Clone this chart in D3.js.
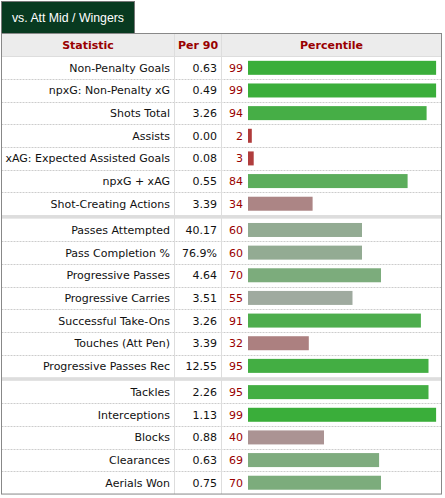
<!DOCTYPE html>
<html>
<head>
<meta charset="utf-8">
<script src="https://cdn.jsdelivr.net/npm/d3@7"></script>
<style>
  body { margin: 0; background: #fff; }
  svg text { font-family: "DejaVu Sans", Verdana, sans-serif; }
</style>
</head>
<body>
<div id="chart"></div>
<script>
// scouting report rows
var stats = ["Non-Penalty Goals", "npxG: Non-Penalty xG", "Shots Total", "Assists",
  "xAG: Expected Assisted Goals", "npxG + xAG", "Shot-Creating Actions",
  "Passes Attempted", "Pass Completion %", "Progressive Passes", "Progressive Carries",
  "Successful Take-Ons", "Touches (Att Pen)", "Progressive Passes Rec",
  "Tackles", "Interceptions", "Blocks", "Clearances", "Aerials Won"];
var per90 = ["0.63", "0.49", "3.26", "0.00", "0.08", "0.55", "3.39",
  "40.17", "76.9%", "4.64", "3.51", "3.26", "3.39", "12.55",
  "2.26", "1.13", "0.88", "0.63", "0.75"];
var percentiles = [99, 99, 94, 2, 3, 84, 34,
  60, 60, 70, 55, 91, 32, 95,
  95, 99, 40, 69, 70];
var groupSizes = [7, 7, 5];
var headers = ["Statistic", "Per 90", "Percentile"];
var tabLabel = "vs. Att Mid / Wingers";

var W = 445, H = 498;
var left = 1.5, right = 441.5, tabBottom = 33.5, headBottom = 56.5;
var rowH = 22.65, sepH = 3.6;
var col1 = 174.5, col2 = 221.5;

// which group each row belongs to
var groupOf = [];
groupSizes.forEach(function(n, g) { for (var k = 0; k < n; k++) groupOf.push(g); });

function rowTop(i) { return headBottom + i * rowH + groupOf[i] * sepH; }
var tableBottom = rowTop(stats.length - 1) + rowH;

var x = d3.scaleLinear().domain([0, 100]).range([248, 438]);
var color = d3.scaleLinear().domain([0, 50, 100])
  .range(["rgb(176,54,54)", "rgb(170,170,170)", "rgb(56,174,56)"]);

var svg = d3.select("#chart").append("svg")
  .attr("width", W).attr("height", H);

// tab
svg.append("rect")
  .attr("x", 1.5).attr("y", 1.5).attr("width", 133).attr("height", tabBottom - 1.5)
  .attr("fill", "#083a20").attr("stroke", "#777");
svg.append("text")
  .attr("x", 68).attr("y", 21.5)
  .attr("text-anchor", "middle")
  .style("font-family", "'Liberation Sans', Arial, sans-serif")
  .style("font-size", "12.3px")
  .attr("fill", "#fff")
  .text(tabLabel);

// header
svg.append("rect")
  .attr("x", left).attr("y", tabBottom).attr("width", right - left).attr("height", headBottom - tabBottom)
  .attr("fill", "#ececec");
var headX = [(left + col1) / 2, (col1 + col2) / 2, (col2 + right) / 2];
svg.selectAll(".head").data(headers).enter().append("text")
  .attr("class", "head")
  .attr("x", function(d, i) { return headX[i]; })
  .attr("y", (tabBottom + headBottom) / 2 + 4)
  .attr("text-anchor", "middle")
  .style("font-size", "11px").style("font-weight", "bold")
  .attr("fill", "#990000")
  .text(function(d) { return d; });

// group separators
var sepYs = [];
var acc = 0;
groupSizes.slice(0, -1).forEach(function(n) {
  acc += n;
  sepYs.push(rowTop(acc) - sepH);
});
svg.selectAll(".sep").data(sepYs).enter().append("rect")
  .attr("x", left).attr("y", function(d) { return d; })
  .attr("width", right - left).attr("height", sepH)
  .attr("fill", "#dddddd");

// dotted row dividers
var dividers = d3.range(stats.length - 1).filter(function(i) { return groupOf[i] === groupOf[i + 1]; });
svg.selectAll(".div").data(dividers).enter().append("line")
  .attr("x1", left).attr("x2", right)
  .attr("y1", function(i) { return Math.round(rowTop(i) + rowH) + 0.5; })
  .attr("y2", function(i) { return Math.round(rowTop(i) + rowH) + 0.5; })
  .attr("stroke", "#cccccc").attr("stroke-dasharray", "2,1");

// column lines
[col1, col2].forEach(function(cx) {
  svg.append("line").attr("x1", cx).attr("x2", cx)
    .attr("y1", tabBottom).attr("y2", tableBottom)
    .attr("stroke", "#dddddd");
});
svg.append("line").attr("x1", left).attr("x2", right)
  .attr("y1", headBottom).attr("y2", headBottom).attr("stroke", "#dddddd");

// rows
var rows = svg.selectAll(".row").data(stats).enter().append("g")
  .attr("class", "row")
  .attr("transform", function(d, i) { return "translate(0," + rowTop(i) + ")"; });

rows.append("text")
  .attr("x", 170).attr("y", rowH / 2 + 4)
  .attr("text-anchor", "end")
  .style("font-size", "11px").attr("fill", "#111")
  .text(function(d) { return d; });

rows.append("text")
  .attr("x", 217).attr("y", rowH / 2 + 4)
  .attr("text-anchor", "end")
  .style("font-size", "11px").attr("fill", "#111")
  .text(function(d, i) { return per90[i]; });

rows.append("text")
  .attr("x", 243).attr("y", rowH / 2 + 4)
  .attr("text-anchor", "end")
  .style("font-size", "11px").attr("fill", "#990000")
  .text(function(d, i) { return percentiles[i]; });

rows.append("rect")
  .attr("x", x(0))
  .attr("y", rowH / 2 - 7)
  .attr("width", function(d, i) { return x(percentiles[i]) - x(0); })
  .attr("height", 14)
  .attr("fill", function(d, i) { return color(percentiles[i]); });

// outer border
svg.append("rect")
  .attr("x", left).attr("y", tabBottom).attr("width", right - left).attr("height", tableBottom - tabBottom)
  .attr("fill", "none").attr("stroke", "#888");
</script>
</body>
</html>
